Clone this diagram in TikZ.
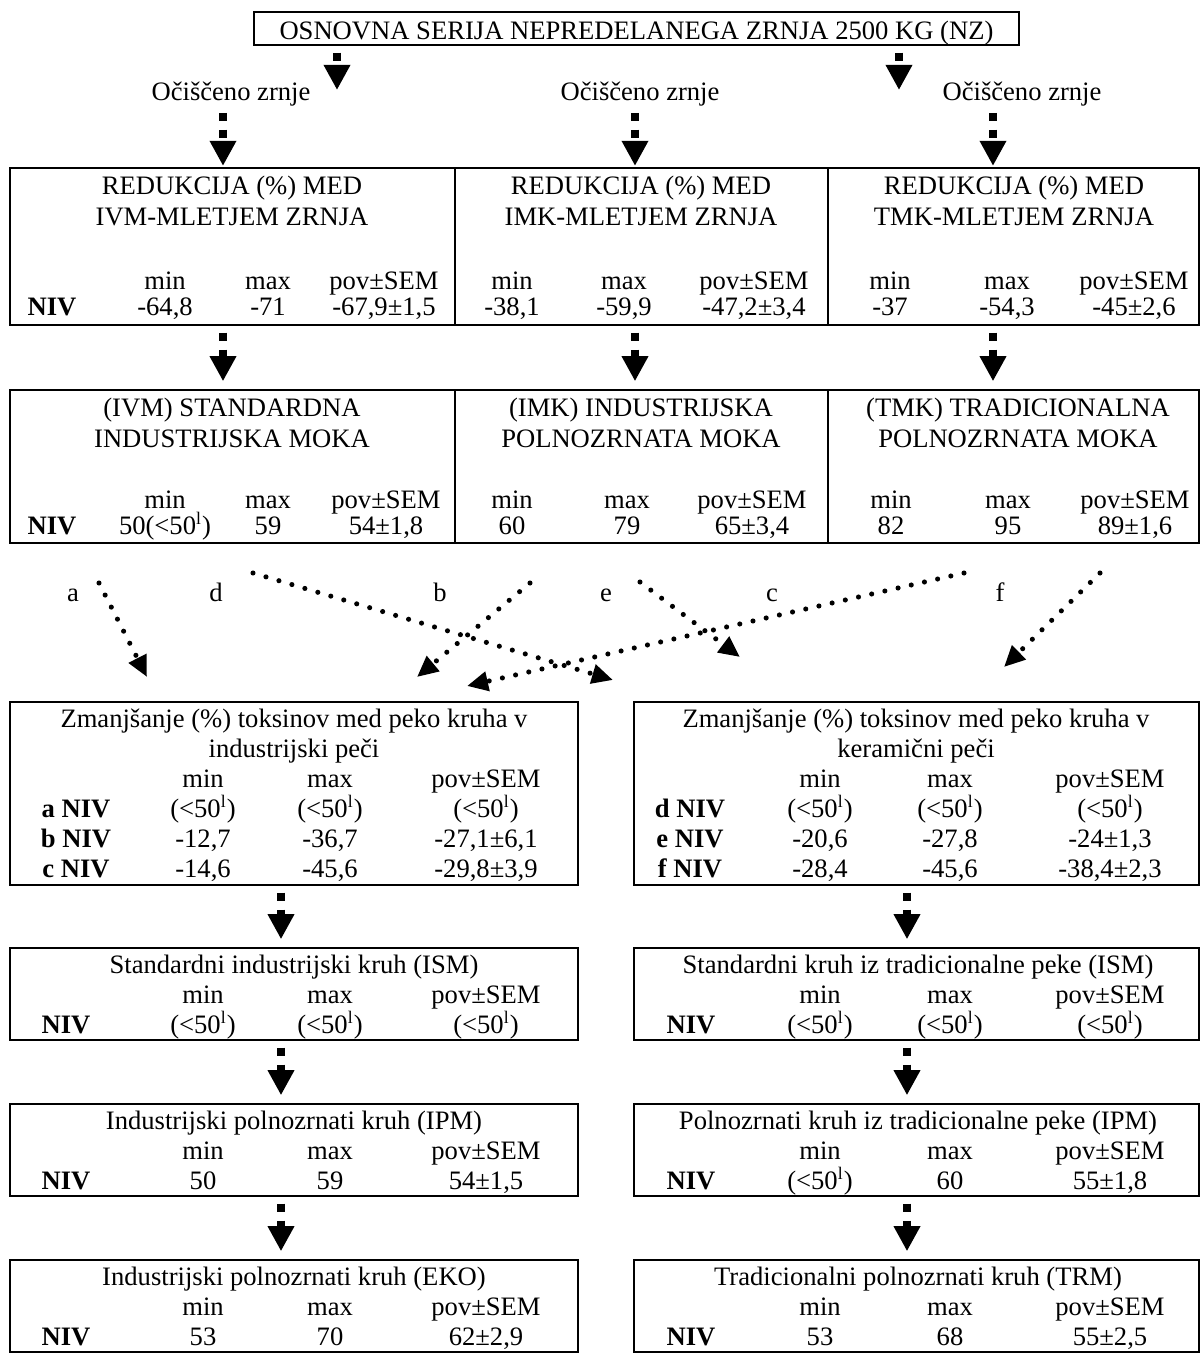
\documentclass[tikz,border=0pt]{standalone}
\usepackage{fontspec}
\setmainfont{Liberation Serif}
\usetikzlibrary{arrows.meta,fit,positioning}
\tikzset{
  box/.style = {draw=black, line width=0.9pt, inner sep=0pt},% okvir
  txt/.style = {inner sep=0pt, anchor=base, font=\fontsize{12}{14}\selectfont},
  lab/.style = {txt, font=\fontsize{12}{14}\selectfont\bfseries},% oznaka vrstice
  flow/.style = {line width=3.6pt, dash pattern=on 3.6pt off 4pt,
    shorten <=3pt, -{Triangle[width=11.3pt, length=11.3pt]}},% debela puscica
  dots/.style = {line width=2.3pt, line cap=round, dash pattern=on 0pt off 6.1pt,
    -{Triangle[width=8.5pt, length=9.5pt]}}% pikcasta puscica
}
\newcommand\lod{(<50\textsuperscript{l})}
\newcommand\statrow[8]{% ime, baseline, x/vrednost za min, max, pov
  \node[txt] (#1-min) at (#3,#2) {#4};
  \node[txt] (#1-max) at (#5,#2) {#6};
  \node[txt] (#1-pov) at (#7,#2) {#8};}

\begin{document}
\begin{tikzpicture}[x=0.451pt, y=-0.451pt]
\useasboundingbox (0,0) rectangle (1201,1353);
% osnovna serija
\node[box, fit={(254,12) (1019,45)}] (nz) {};
\node[txt] (nzt) at (636.5,39) {OSNOVNA SERIJA NEPREDELANEGA ZRNJA 2500 KG (NZ)};
\coordinate (nzl) at (337,90);
\coordinate (nzr) at (899,90);
\draw[flow] (nz.south -| nzl) -- (nzl);
\draw[flow] (nz.south -| nzr) -- (nzr);

% ocisceno zrnje
\node[txt] (oz1) at (231,100) {Očiščeno zrnje};
\node[txt] (oz2) at (640,100) {Očiščeno zrnje};
\node[txt] (oz3) at (1022,100) {Očiščeno zrnje};
\coordinate (k1) at (223,0);
\coordinate (k2) at (635,0);
\coordinate (k3) at (993,0);

% redukcija med mletjem
\node[box, fit={(10,168) (455,325)}] (rIVM) {};
\node[box, fit={(455,168) (828,325)}] (rIMK) {};
\node[box, fit={(828,168) (1199,325)}] (rTMK) {};
\draw[flow, shorten >=0.5pt] (oz1.south -| k1) -- (rIVM.north -| k1);
\draw[flow, shorten >=0.5pt] (oz2.south -| k2) -- (rIMK.north -| k2);
\draw[flow, shorten >=0.5pt] (oz3.south -| k3) -- (rTMK.north -| k3);
\node[txt] (rIVM-a) at (232,194) {REDUKCIJA (\%) MED};
\node[txt] (rIVM-b) at (232,225) {IVM-MLETJEM ZRNJA};
\node[txt] (rIMK-a) at (641,194) {REDUKCIJA (\%) MED};
\node[txt] (rIMK-b) at (641,225) {IMK-MLETJEM ZRNJA};
\node[txt] (rTMK-a) at (1014,194) {REDUKCIJA (\%) MED};
\node[txt] (rTMK-b) at (1014,225) {TMK-MLETJEM ZRNJA};
\node[lab] (rNIV) at (52,315) {NIV};
\statrow{rIVM-h}{289}{165}{min}{268}{max}{384}{pov±SEM}
\statrow{rIVM-v}{315}{165}{-64,8}{268}{-71}{384}{-67,9±1,5}
\statrow{rIMK-h}{289}{512}{min}{624}{max}{754}{pov±SEM}
\statrow{rIMK-v}{315}{512}{-38,1}{624}{-59,9}{754}{-47,2±3,4}
\statrow{rTMK-h}{289}{890}{min}{1007}{max}{1134}{pov±SEM}
\statrow{rTMK-v}{315}{890}{-37}{1007}{-54,3}{1134}{-45±2,6}

% moka
\node[box, fit={(10,390) (455,543)}] (mIVM) {};
\node[box, fit={(455,390) (828,543)}] (mIMK) {};
\node[box, fit={(828,390) (1199,543)}] (mTMK) {};
\draw[flow, shorten >=3.5pt] (rIVM.south -| k1) -- (mIVM.north -| k1);
\draw[flow, shorten >=3.5pt] (rIMK.south -| k2) -- (mIMK.north -| k2);
\draw[flow, shorten >=3.5pt] (rTMK.south -| k3) -- (mTMK.north -| k3);
\node[txt] (mIVM-a) at (232,416) {(IVM) STANDARDNA};
\node[txt] (mIVM-b) at (232,447) {INDUSTRIJSKA MOKA};
\node[txt] (mIMK-a) at (641,416) {(IMK) INDUSTRIJSKA};
\node[txt] (mIMK-b) at (641,447) {POLNOZRNATA MOKA};
\node[txt] (mTMK-a) at (1018,416) {(TMK) TRADICIONALNA};
\node[txt] (mTMK-b) at (1018,447) {POLNOZRNATA MOKA};
\node[lab] (mNIV) at (52,534) {NIV};
\statrow{mIVM-h}{508}{165}{min}{268}{max}{386}{pov±SEM}
\statrow{mIVM-v}{534}{165}{50\lod}{268}{59}{386}{54±1,8}
\statrow{mIMK-h}{508}{512}{min}{627}{max}{752}{pov±SEM}
\statrow{mIMK-v}{534}{512}{60}{627}{79}{752}{65±3,4}
\statrow{mTMK-h}{508}{891}{min}{1008}{max}{1135}{pov±SEM}
\statrow{mTMK-v}{534}{891}{82}{1008}{95}{1135}{89±1,6}

% pikcaste puscice do peci
\node[txt] (la) at (73,601) {a};
\node[txt] (ld) at (216,601) {d};
\node[txt] (lb) at (440,601) {b};
\node[txt] (le) at (606,601) {e};
\node[txt] (lc) at (772,601) {c};
\node[txt] (lf) at (1000,601) {f};
\coordinate (a0) at (99,583);   \coordinate (a1) at (147,677);
\coordinate (b0) at (530,583);  \coordinate (b1) at (417,677);
\coordinate (c0) at (964,573);  \coordinate (c1) at (467,686);
\coordinate (d0) at (253,573);  \coordinate (d1) at (613,680);
\coordinate (e0) at (640,582);  \coordinate (e1) at (740,657);
\coordinate (f0) at (1100,573); \coordinate (f1) at (1004,667);
\foreach \p in {a,b,c,d,e,f}
  \draw[dots] (\p0) -- (\p1);

% peka kruha
\node[box, fit={(10,702) (578,885)}] (ind) {};
\node[box, fit={(634,702) (1199,885)}] (ker) {};
\node[txt] (ind-a) at (294,727) {Zmanjšanje (\%) toksinov med peko kruha v};
\node[txt] (ind-b) at (294,757) {industrijski peči};
\statrow{ind-h}{787}{203}{min}{330}{max}{486}{pov±SEM}
\node[lab] (ind-1) at (76,817) {a NIV};
\statrow{ind-a}{817}{203}{\lod}{330}{\lod}{486}{\lod}
\node[lab] (ind-2) at (76,847) {b NIV};
\statrow{ind-b}{847}{203}{-12,7}{330}{-36,7}{486}{-27,1±6,1}
\node[lab] (ind-3) at (76,877) {c NIV};
\statrow{ind-c}{877}{203}{-14,6}{330}{-45,6}{486}{-29,8±3,9}
\node[txt] (ker-a) at (916,727) {Zmanjšanje (\%) toksinov med peko kruha v};
\node[txt] (ker-b) at (916,757) {keramični peči};
\statrow{ker-h}{787}{820}{min}{950}{max}{1110}{pov±SEM}
\node[lab] (ker-1) at (690,817) {d NIV};
\statrow{ker-d}{817}{820}{\lod}{950}{\lod}{1110}{\lod}
\node[lab] (ker-2) at (690,847) {e NIV};
\statrow{ker-e}{847}{820}{-20,6}{950}{-27,8}{1110}{-24±1,3}
\node[lab] (ker-3) at (690,877) {f NIV};
\statrow{ker-f}{877}{820}{-28,4}{950}{-45,6}{1110}{-38,4±2,3}

% kruh
\coordinate (kl) at (281,0);
\coordinate (kr) at (907,0);
\node[box, fit={(10,948) (578,1040)}] (ism1) {};
\node[box, fit={(634,948) (1199,1040)}] (ism2) {};
\node[box, fit={(10,1104) (578,1196)}] (ipm1) {};
\node[box, fit={(634,1104) (1199,1196)}] (ipm2) {};
\node[box, fit={(10,1260) (578,1352)}] (eko) {};
\node[box, fit={(634,1260) (1199,1352)}] (trm) {};
\draw[flow, shorten >=3.5pt] (ind.south -| kl) -- (ism1.north -| kl);
\draw[flow, shorten >=3.5pt] (ker.south -| kr) -- (ism2.north -| kr);
\draw[flow, shorten >=3.5pt] (ism1.south -| kl) -- (ipm1.north -| kl);
\draw[flow, shorten >=3.5pt] (ism2.south -| kr) -- (ipm2.north -| kr);
\draw[flow, shorten >=3.5pt] (ipm1.south -| kl) -- (eko.north -| kl);
\draw[flow, shorten >=3.5pt] (ipm2.south -| kr) -- (trm.north -| kr);

\node[txt] (ism1-a) at (294,973) {Standardni industrijski kruh (ISM)};
\statrow{ism1-h}{1003}{203}{min}{330}{max}{486}{pov±SEM}
\node[lab] (ism1-n) at (66,1033) {NIV};
\statrow{ism1-v}{1033}{203}{\lod}{330}{\lod}{486}{\lod}
\node[txt] (ism2-a) at (918,973) {Standardni kruh iz tradicionalne peke (ISM)};
\statrow{ism2-h}{1003}{820}{min}{950}{max}{1110}{pov±SEM}
\node[lab] (ism2-n) at (691,1033) {NIV};
\statrow{ism2-v}{1033}{820}{\lod}{950}{\lod}{1110}{\lod}

\node[txt] (ipm1-a) at (294,1129) {Industrijski polnozrnati kruh (IPM)};
\statrow{ipm1-h}{1159}{203}{min}{330}{max}{486}{pov±SEM}
\node[lab] (ipm1-n) at (66,1189) {NIV};
\statrow{ipm1-v}{1189}{203}{50}{330}{59}{486}{54±1,5}
\node[txt] (ipm2-a) at (918,1129) {Polnozrnati kruh iz tradicionalne peke (IPM)};
\statrow{ipm2-h}{1159}{820}{min}{950}{max}{1110}{pov±SEM}
\node[lab] (ipm2-n) at (691,1189) {NIV};
\statrow{ipm2-v}{1189}{820}{\lod}{950}{60}{1110}{55±1,8}

\node[txt] (eko-a) at (294,1285) {Industrijski polnozrnati kruh (EKO)};
\statrow{eko-h}{1315}{203}{min}{330}{max}{486}{pov±SEM}
\node[lab] (eko-n) at (66,1345) {NIV};
\statrow{eko-v}{1345}{203}{53}{330}{70}{486}{62±2,9}
\node[txt] (trm-a) at (918,1285) {Tradicionalni polnozrnati kruh (TRM)};
\statrow{trm-h}{1315}{820}{min}{950}{max}{1110}{pov±SEM}
\node[lab] (trm-n) at (691,1345) {NIV};
\statrow{trm-v}{1345}{820}{53}{950}{68}{1110}{55±2,5}
\end{tikzpicture}
\end{document}
